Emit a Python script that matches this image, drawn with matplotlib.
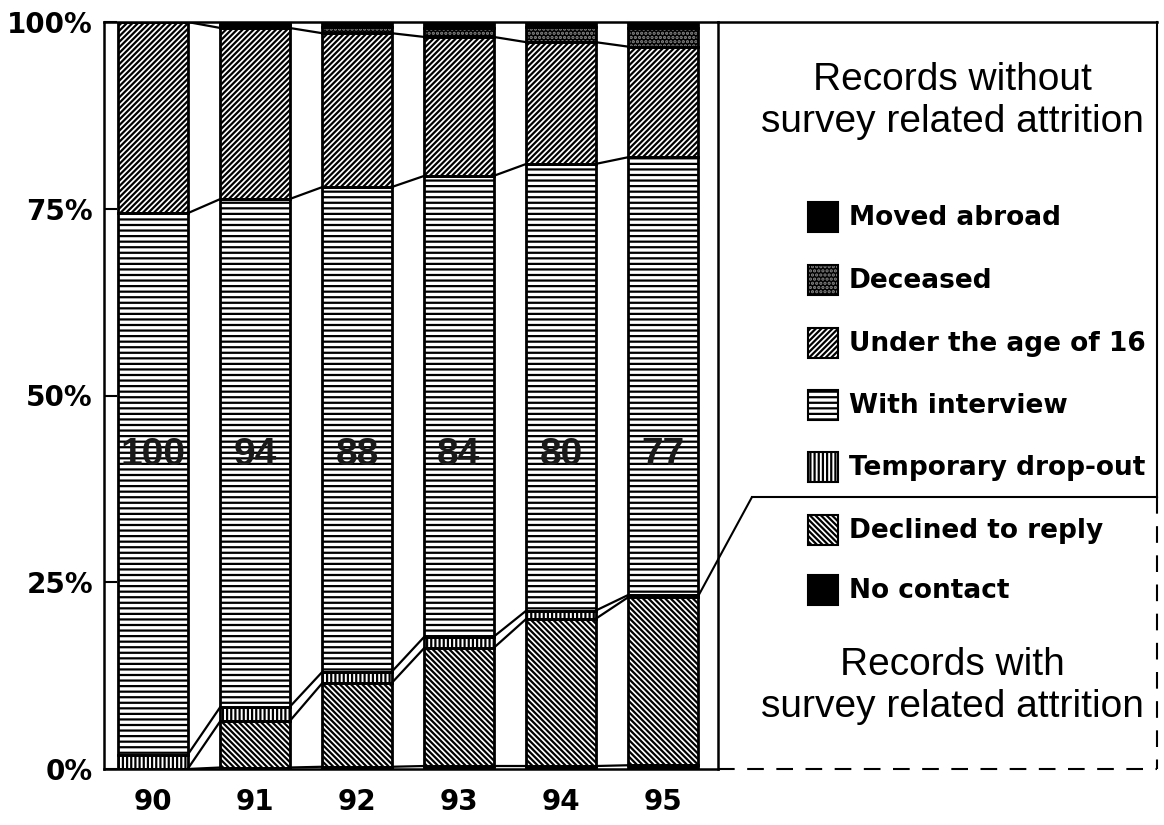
import matplotlib
matplotlib.use("Agg")
import matplotlib.pyplot as plt
from matplotlib.patches import Rectangle, ConnectionPatch
import numpy as np

plt.rcParams['hatch.linewidth'] = 1.6

# ---------------- data (percent of records) ----------------
years = ['90', '91', '92', '93', '94', '95']
totals = [100, 94, 88, 84, 80, 77]
no_contact = [0.0, 0.2, 0.3, 0.4, 0.4, 0.5]
declined = [0.0, 6.2, 11.2, 15.8, 19.7, 22.5]
dropout = [1.9, 1.9, 1.5, 1.5, 1.1, 0.3]
interview = [72.5, 68.0, 64.9, 61.7, 59.8, 58.6]
under16 = [25.6, 22.9, 20.6, 18.6, 16.3, 14.8]
deceased = [0.0, 0.4, 0.8, 1.2, 2.0, 2.5]
moved_abroad = [0.0, 0.4, 0.7, 0.8, 0.7, 0.8]
yticks = [0, 25, 50, 75, 100]
ytick_labels = ['0%', '25%', '50%', '75%', '100%']

series = [
    ("No contact", no_contact, dict(face='black', hcol='black', hatch=None)),
    ("Declined to reply", declined, dict(face='white', hcol='black', hatch='\\' * 6)),
    ("Temporary drop-out", dropout, dict(face='white', hcol='black', hatch='||||')),
    ("With interview", interview, dict(face='white', hcol='black', hatch='---')),
    ("Under the age of 16", under16, dict(face='white', hcol='black', hatch='/' * 6)),
    ("Deceased", deceased, dict(face='black', hcol='#8a8a8a', hatch='....')),
    ("Moved abroad", moved_abroad, dict(face='black', hcol='black', hatch=None)),
]

W, H = 1164, 825
fig = plt.figure(figsize=(W / 100, H / 100), dpi=100)
px_l, px_r, px_t, px_b = 104, 718, 22, 769
ax = fig.add_axes([px_l / W, 1 - px_b / H, (px_r - px_l) / W, (px_b - px_t) / H])

x = np.arange(len(years))
bw = 0.68
bottom = np.zeros(len(years))
cums = []
for name, vals, st in series:
    v = np.array(vals)
    ax.bar(x, v, bw, bottom=bottom, color=st['face'], edgecolor=st['hcol'],
           hatch=st['hatch'], linewidth=0, zorder=2)
    ax.bar(x, v, bw, bottom=bottom, fill=False, edgecolor='black',
           linewidth=2.0, zorder=3)
    bottom = bottom + v
    cums.append(bottom.copy())

# connector lines between bars at segment boundaries
for c in cums[:5]:
    for i in range(len(years) - 1):
        ax.plot([x[i] + bw / 2, x[i + 1] - bw / 2], [c[i], c[i + 1]],
                color='black', lw=1.6, zorder=4, solid_capstyle='butt')

# totals labels
for xi, t in zip(x, totals):
    ax.text(xi, 42, str(t), ha='center', va='center', fontsize=28,
            family='Liberation Sans', fontweight='bold', color='#1a1a1a', zorder=5)

ax.set_xlim(-0.48, 5.54)
ax.set_ylim(0, 100)
ax.set_yticks(yticks)
ax.set_yticklabels(ytick_labels)
ax.set_xticks(x)
ax.set_xticklabels(years)
ax.tick_params(axis='y', direction='in', length=9, width=1.5, pad=8,
               labelsize=20)
ax.tick_params(axis='x', length=0, pad=14, labelsize=20)
for lab in ax.get_yticklabels() + ax.get_xticklabels():
    lab.set_fontweight('bold')
    lab.set_family('DejaVu Sans')
for s in ax.spines.values():
    s.set_linewidth(1.8)

# ---------------- legend panel (pixel coordinates) ----------------
p_r = 1157
pax = fig.add_axes([px_r / W, 1 - px_b / H, (p_r - px_r) / W, (px_b - px_t) / H])
pax.set_xlim(px_r, p_r)
pax.set_ylim(px_b, px_t)
pax.axis('off')
sep_y = 497
pax.plot([px_r, p_r], [px_t, px_t], color='black', lw=1.8, clip_on=False)
pax.plot([p_r, p_r], [px_t, sep_y], color='black', lw=1.5, clip_on=False)
pax.plot([p_r, p_r], [sep_y, px_b], color='black', lw=1.5, ls=(0, (8, 6)), clip_on=False)
pax.plot([px_r, p_r], [px_b, px_b], color='black', lw=1.5, ls=(0, (8, 6)), clip_on=False)
pax.plot([752, p_r], [sep_y, sep_y], color='black', lw=1.5, clip_on=False)

con = ConnectionPatch(xyA=(x[-1] + bw / 2, cums[1][-1]), coordsA=ax.transData,
                      xyB=(752, sep_y), coordsB=pax.transData,
                      color='black', lw=1.5, zorder=6)
fig.add_artist(con)

pax.text(952, 101, "Records without\nsurvey related attrition", ha='center',
         va='center', fontsize=28, family='Liberation Sans', linespacing=1.2)
pax.text(952, 686, "Records with\nsurvey related attrition", ha='center',
         va='center', fontsize=28, family='Liberation Sans', linespacing=1.2)

legend_order = list(reversed(series))
ys = [217, 280, 343, 405, 467, 530, 590]
for (name, vals, st), yc in zip(legend_order, ys):
    pax.add_patch(Rectangle((808, yc - 15), 30, 30, facecolor=st['face'],
                            edgecolor=st['hcol'], hatch=st['hatch'], lw=0))
    pax.add_patch(Rectangle((808, yc - 15), 30, 30, fill=False,
                            edgecolor='black', lw=1.5))
    pax.text(849, yc + 1, name, ha='left', va='center', fontsize=19,
             fontweight='bold', family='DejaVu Sans')

fig.savefig('out.png', dpi=100)
